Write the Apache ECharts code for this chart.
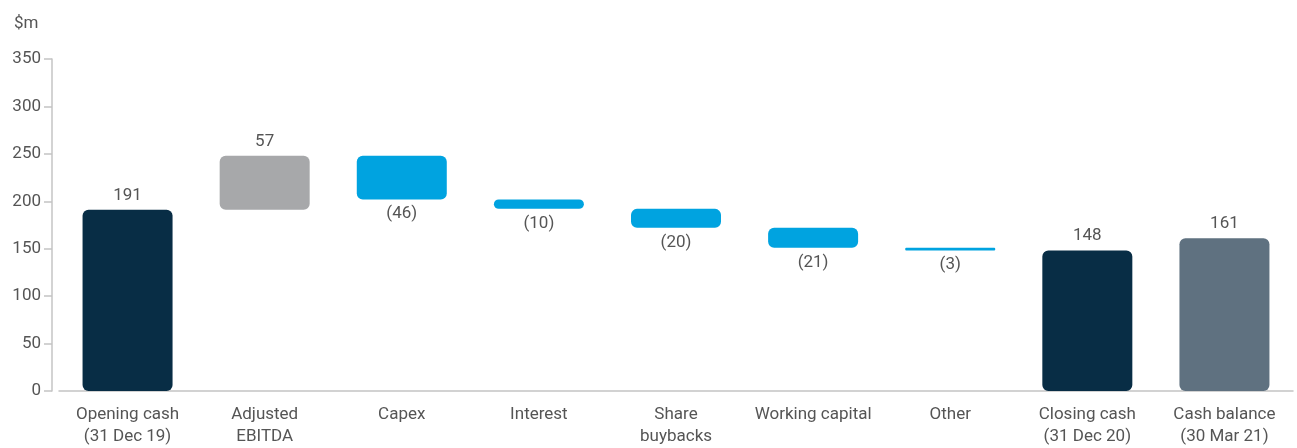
<!DOCTYPE html>
<html>
<head>
<meta charset="utf-8">
<script src="https://cdn.jsdelivr.net/npm/echarts@6/dist/echarts.min.js"></script>
<style>
  html, body { margin: 0; padding: 0; background: #fff; }
  #chart { width: 1297px; height: 448px; }
</style>
</head>
<body>
<div id="chart"></div>
<script>
// categories and amounts ($m), negatives are outflows
const categories = [
  "Opening cash\n(31 Dec 19)", "Adjusted\nEBITDA", "Capex", "Interest",
  "Share\nbuybacks", "Working capital", "Other",
  "Closing cash\n(31 Dec 20)", "Cash balance\n(30 Mar 21)"
];
const amounts = [191, 57, -46, -10, -20, -21, -3, 148, 161];
// 'total' bars start at zero, 'step' bars float on the running total
const kinds = ["total", "step", "step", "step", "step", "step", "step", "total", "total"];
const barColors = ["#082d45", "#a7a8aa", "#00a3e0", "#00a3e0", "#00a3e0", "#00a3e0", "#00a3e0", "#082d45", "#5f7180"];
const yTicks = [0, 50, 100, 150, 200, 250, 300, 350];

const FONT = "Roboto, 'Liberation Sans', Arial, sans-serif";

// build waterfall base + visible part
let running = 0;
const baseData = [];
const barData = [];
amounts.forEach((v, i) => {
  if (kinds[i] === "total") {
    baseData.push(0);
    barData.push(v);
    running = v;
  } else if (v >= 0) {
    baseData.push(running);
    barData.push(v);
    running += v;
  } else {
    running += v;
    baseData.push(running);
    barData.push(-v);
  }
});

const chart = echarts.init(document.getElementById("chart"));
chart.setOption({
  animation: false,
  title: {
    text: "$m",
    left: 9,
    top: 10,
    textStyle: { fontFamily: FONT, fontSize: 17, fontWeight: "normal", color: "#555" }
  },
  grid: { left: 59, right: 4, top: 59, bottom: 57, containLabel: false },
  xAxis: {
    type: "category",
    data: categories,
    axisLine: { lineStyle: { color: "#c4c4c4", width: 1.5 } },
    axisTick: { show: false },
    axisLabel: {
      interval: 0,
      margin: 13,
      fontFamily: FONT,
      fontSize: 17,
      lineHeight: 22,
      color: "#555"
    }
  },
  yAxis: {
    type: "value",
    min: 0,
    max: yTicks[yTicks.length - 1],
    interval: 50,
    offset: 7,
    splitLine: { show: false },
    axisLine: { show: true, lineStyle: { color: "#c4c4c4", width: 1.5 } },
    axisTick: { show: true, length: 8, lineStyle: { color: "#c4c4c4", width: 1.5 } },
    axisLabel: { margin: 11, fontFamily: FONT, fontSize: 17, color: "#555" }
  },
  series: [
    {
      type: "bar",
      stack: "wf",
      barWidth: 90,
      itemStyle: { color: "transparent" },
      emphasis: { disabled: true },
      data: baseData
    },
    {
      type: "bar",
      stack: "wf",
      barWidth: 90,
      data: barData.map((v, i) => ({
        value: v,
        itemStyle: { color: barColors[i], borderRadius: v < 5 ? 1 : 6 },
        label: {
          show: true,
          position: amounts[i] < 0 ? "bottom" : "top",
          distance: 6,
          formatter: amounts[i] < 0 ? "(" + (-amounts[i]) + ")" : String(amounts[i]),
          fontFamily: FONT,
          fontSize: 17,
          color: "#555"
        }
      }))
    }
  ]
});
</script>
</body>
</html>
